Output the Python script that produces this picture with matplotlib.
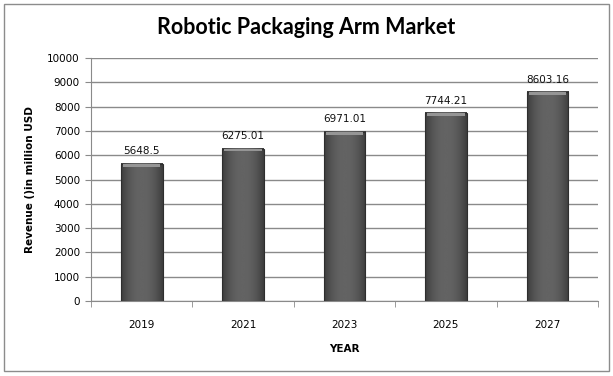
import numpy as np
import matplotlib
matplotlib.use("Agg")
from matplotlib import pyplot as plt
from matplotlib.patches import Rectangle

# 数据
years = ["2019", "2021", "2023", "2025", "2027"]
revenue = [5648.5, 6275.01, 6971.01, 7744.21, 8603.16]
label_text = ["5648.5", "6275.01", "6971.01", "7744.21", "8603.16"]

fig = plt.figure(figsize=(6.13, 3.76), dpi=100)
ax = fig.add_axes([0.1485, 0.1995, 0.827, 0.6462])

# 外框
fig.patches.append(Rectangle((0.006, 0.012), 0.988, 0.978, transform=fig.transFigure,
                             fill=False, edgecolor="#8c8c8c", linewidth=1.0))

x = np.arange(len(years))
bar_w = 0.41

# 横向渐变，模拟圆柱效果
grad = np.linspace(-1, 1, 64)
shade = 0.39 - 0.15 * np.abs(grad) ** 2.2
grad_img = np.tile(shade, (2, 1))

for xi, v in zip(x, revenue):
    left = xi - bar_w / 2
    ax.imshow(grad_img, cmap="gray", vmin=0, vmax=1, aspect="auto",
              extent=(left, left + bar_w, 0, v), zorder=3, interpolation="bicubic")
    ax.add_patch(Rectangle((left, 0), bar_w, v, fill=False, edgecolor="#2e2e2e",
                           linewidth=0.8, zorder=4))
    # 顶部斜面
    ax.add_patch(Rectangle((left + 0.02, v - 120), bar_w - 0.04, 100, facecolor="#959595",
                           edgecolor="none", zorder=4))

for xi, v, t in zip(x, revenue, label_text):
    ax.text(xi, v + 300, t, ha="center", va="bottom", fontsize=7.5,
            family="DejaVu Sans", color="#111111")

ax.set_xlim(-0.5, len(years) - 0.5)
ax.set_ylim(0, 10000)
ax.set_yticks(np.arange(0, 10001, 1000))
ax.yaxis.grid(True, color="#8a8a8a", linewidth=1.0, zorder=0)
ax.set_axisbelow(True)

ax.set_xticks(x)
ax.set_xticklabels(years)
ax.set_xticks(np.arange(-0.5, len(years), 1.0), minor=True)
ax.tick_params(axis="x", which="major", length=0, pad=14, labelsize=7.5)
ax.tick_params(axis="x", which="minor", length=4, color="#8a8a8a", direction="out")
ax.tick_params(axis="y", length=4, color="#8a8a8a", labelsize=7.5, pad=4)

for s in ["top", "right"]:
    ax.spines[s].set_visible(False)
ax.spines["left"].set_color("#8a8a8a")
ax.spines["bottom"].set_color("#8a8a8a")

ax.set_xlabel("YEAR", fontsize=7.5, fontweight="bold", labelpad=10)
ax.set_ylabel("Revenue ()in million USD", fontsize=7.5, fontweight="bold", labelpad=9)

fig.text(0.5, 0.927, "Robotic Packaging Arm Market", ha="center", va="center",
         fontsize=15.5, fontweight="bold", family="Lato")

fig.savefig("out.png", dpi=100)
